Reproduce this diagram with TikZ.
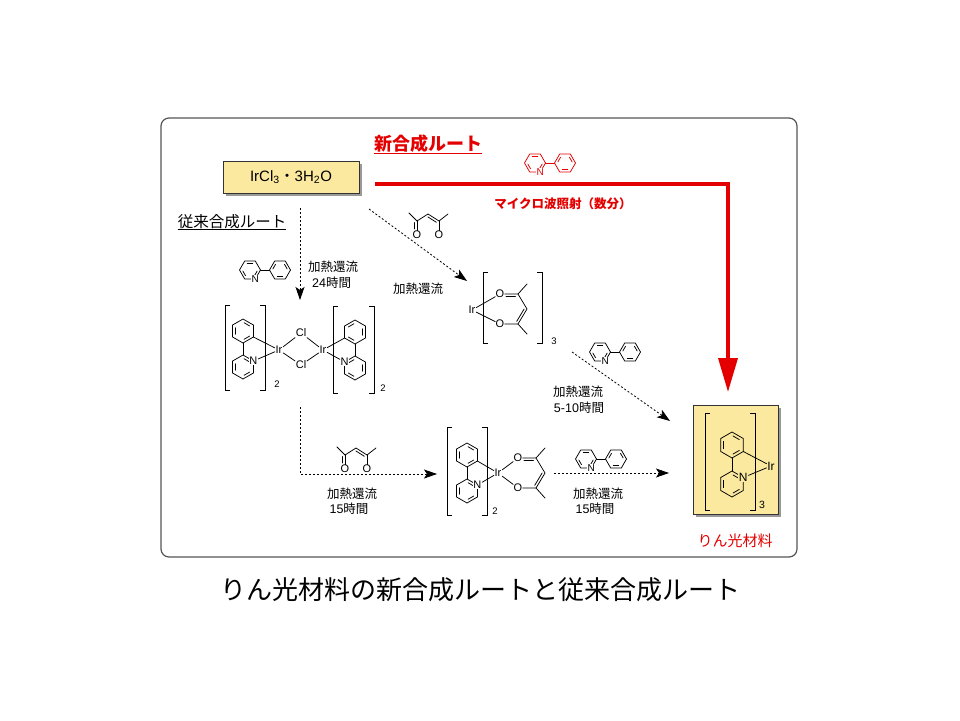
\documentclass[tikz,border=0pt]{standalone}
\usepackage{fontspec}
\setmainfont{Liberation Sans}
\newfontfamily\jp{Noto Sans CJK JP}
\usepackage{tikz}
\usetikzlibrary{positioning}
\usetikzlibrary{arrows.meta}
\usetikzlibrary{calc}
\usetikzlibrary{shadows}

\definecolor{routered}{RGB}{228,0,0}
\definecolor{boxyellow}{RGB}{250,233,158}
\definecolor{framegray}{RGB}{85,85,85}

\tikzset{
  bond/.style={line width=0.75pt, line cap=round},
  bracket/.style={line width=0.75pt},
  atom/.style={inner sep=0.6pt, fill=white, font=\fontsize{11}{11}\selectfont},
  subnum/.style={inner sep=0pt, font=\fontsize{9.5}{10}\selectfont},
  note/.style={inner sep=0pt, font=\fontsize{12.5}{14}\selectfont},
  reaction/.style={line width=0.8pt, dash pattern=on 2pt off 2pt,
    -{Stealth[length=13pt,width=9pt,inset=3pt]}},
  yellowbox/.style={draw=black!80, line width=0.6pt, fill=boxyellow,
    drop shadow={shadow xshift=3pt,shadow yshift=-3pt,fill=black!40,opacity=1}},
}

% hexagon: centre, radius, angle of first corner, edges with inner line
\newcommand{\hexring}[4]{%
  \draw[bond] ($(#1)+(#3:#2)$) -- ($(#1)+({#3+60}:#2)$) -- ($(#1)+({#3+120}:#2)$)
    -- ($(#1)+({#3+180}:#2)$) -- ($(#1)+({#3+240}:#2)$) -- ($(#1)+({#3+300}:#2)$) -- cycle;
  \foreach \k in {#4}{
    \draw[bond,shorten <=1.2pt,shorten >=1.2pt]
      ($(#1)+({#3+60*\k}:{0.74*#2})$) -- ($(#1)+({#3+60*\k+60}:{0.74*#2})$);
  }%
}
\newcommand{\cbrackets}[4]{%
  \draw[bracket] (#1+5,#3) -- (#1,#3) -- (#1,#4) -- (#1+5,#4);
  \draw[bracket] (#2-5,#3) -- (#2,#3) -- (#2,#4) -- (#2-5,#4);
}
% free 2-phenylpyridine
\newcommand{\freeppy}[3]{%
  \coordinate (#1py) at (#2,#3);
  \coordinate (#1ph) at (#2+30,#3);
  \hexring{#1py}{10.5}{0}{0,2,4}
  \hexring{#1ph}{10.5}{0}{1,3,5}
  \draw[bond] ($(#1py)+(0:10.5)$) -- ($(#1ph)+(180:10.5)$);
  \node[atom,inner sep=0.3pt,font=\fontsize{10}{10}\selectfont] (#1n) at ($(#1py)+(60:10.5)$) {N};
}
% free acac
\newcommand{\freeacac}[3]{%
  \begin{scope}[shift={(#2,#3)}]
    \node[atom,inner sep=0.3pt] (#1oa) at (8,22) {O};
    \node[atom,inner sep=0.3pt] (#1ob) at (30,22) {O};
    \draw[bond] (0,0) -- (8,8) -- (19,1) -- (30,8) -- (39,1);
    \draw[bond,shorten <=1.5pt,shorten >=1.5pt] (17.6,3.1) -- (28.6,10.1);
    \draw[bond] (8,8) -- (#1oa);
    \draw[bond] (5.8,9.5) -- (5.8,16);
    \draw[bond] (30,8) -- (#1ob);
  \end{scope}
}
% chelating acac, origin at the upper O
\newcommand{\chelacac}[3]{%
  \begin{scope}[shift={(#2,#3)}]
    \node[atom,inner sep=0.3pt] (#1ou) at (0,0) {O};
    \node[atom,inner sep=0.3pt] (#1od) at (0,30) {O};
    \coordinate (#1cu) at (18,0);
    \coordinate (#1mu) at (27,-10);
    \coordinate (#1ch) at (27,15);
    \coordinate (#1cd) at (18,30);
    \coordinate (#1md) at (27,40);
    \draw[bond] (#1ou) -- (#1cu) -- (#1mu);
    \draw[bond] (6,2.6) -- (15.5,2.6);
    \draw[bond] (#1cu) -- (#1ch) -- (#1cd) -- (#1od);
    \draw[bond] (#1cd) -- (#1md);
    \draw[bond,shorten <=1.5pt,shorten >=1.5pt] (24.9,13.7) -- (15.9,28.7);
  \end{scope}
}

\begin{document}
\begin{tikzpicture}[x=1pt,y=-1pt]
\fill[white] (0,0) rectangle (960,720);
\useasboundingbox (0,0) rectangle (960,720);

\draw[framegray, line width=1.2pt, rounded corners=8pt] (161,118) rectangle (797,557);

\node[yellowbox, minimum width=136pt, minimum height=32pt, font=\fontsize{15}{15}\selectfont]
  (ircl) at (291,177) {IrCl\textsubscript{3}{\jp ・}3H\textsubscript{2}O};

\node[inner sep=0pt, text=routered, font=\jp\bfseries\fontsize{18}{18}\selectfont] (newroute) at (428,144) {新合成ルート};
\draw[routered, line width=0.7pt] ([yshift=-0.5pt]newroute.south west) -- ([yshift=-0.5pt]newroute.south east);
\node[inner sep=0pt, font=\jp\fontsize{15.5}{16}\selectfont] (oldroute) at (232,222) {従来合成ルート};
\draw[line width=0.6pt] (oldroute.south west) -- (oldroute.south east);

% new route
\coordinate (redStart) at (375,184);
\coordinate (redEnd) at (728,392);
\draw[routered, line width=3.6pt, -{Triangle[length=34pt,width=19pt]}] (redStart) -| (redEnd);
\begin{scope}[color=routered]
\freeppy{ppyA}{535}{163}
\end{scope}
\node[inner sep=0pt, text=routered, font=\jp\bfseries\fontsize{12.5}{13}\selectfont] (mw) at (563,204) {マイクロ波照射（数分）};

% IrCl3 -> dimer
\coordinate (irclDown) at (300,208);
\coordinate (dimerTop) at (300,300);
\draw[reaction] (irclDown) -- (dimerTop);
\freeppy{ppyB}{250}{270}
\node[note, anchor=west] (refluxA) at (308,267) {{\jp 加熱還流}};
\node[note, anchor=west] (timeA) at (312,283) {24{\jp 時間}};

% dimer
\coordinate (dLph) at (243,331);
\coordinate (dLpy) at (243,367);
\hexring{dLph}{12}{30}{0,2,4}
\hexring{dLpy}{12}{30}{0,2,4}
\draw[bond] ($(dLph)+(90:12)$) -- ($(dLpy)+(270:12)$);
\node[atom] (dLn) at ($(dLpy)+(330:12)$) {N};
\coordinate (dRph) at (355,332);
\coordinate (dRpy) at (355,368);
\hexring{dRph}{12}{30}{1,3,5}
\hexring{dRpy}{12}{30}{1,3,5}
\draw[bond] ($(dRph)+(90:12)$) -- ($(dRpy)+(270:12)$);
\node[atom] (dRn) at ($(dRpy)+(210:12)$) {N};
\node[atom] (irL) at (279,350) {Ir};
\node[atom] (irR) at (323,350) {Ir};
\node[atom] (clU) at (301,333) {Cl};
\node[atom] (clD) at (301,365) {Cl};
\draw[bond] ($(dLph)+(30:12)$) -- (irL);
\draw[bond] (dLn) -- (irL);
\draw[bond] ($(dRph)+(150:12)$) -- (irR);
\draw[bond] (dRn) -- (irR);
\draw[bond] (irL) -- (clU) -- (irR);
\draw[bond] (irL) -- (clD) -- (irR);
\cbrackets{225}{265}{305}{390}
\node[subnum] (dLsub) at (277,384) {2};
\cbrackets{333}{374}{306}{393}
\node[subnum] (dRsub) at (383,388) {2};

% IrCl3 -> Ir(acac)3
\coordinate (irclDiag) at (369,209);
\coordinate (acacTop) at (467,281);
\draw[reaction] (irclDiag) -- (acacTop);
\freeacac{acA}{409}{213}
\node[note] (refluxB) at (418,289) {{\jp 加熱還流}};

% Ir(acac)3
\node[atom] (irA) at (472,310) {Ir};
\chelacac{tA}{500}{294}
\draw[bond] (irA) -- (tAou);
\draw[bond] (irA) -- (tAod);
\cbrackets{483}{542}{272}{343}
\node[subnum] (tAsub) at (554,341) {3};

% dimer -> Ir(ppy)2(acac)
\coordinate (dimerDown) at (300,407);
\coordinate (mixLeft) at (437,474);
\draw[reaction] (dimerDown) |- (mixLeft);
\freeacac{acB}{337}{447}
\node[note] (refluxC) at (352,494) {{\jp 加熱還流}};
\node[note] (timeC) at (349,509) {15{\jp 時間}};

% Ir(ppy)2(acac)
\coordinate (mPh) at (467,455);
\coordinate (mPy) at (467,491);
\hexring{mPh}{12}{30}{0,2,4}
\hexring{mPy}{12}{30}{0,2,4}
\draw[bond] ($(mPh)+(90:12)$) -- ($(mPy)+(270:12)$);
\node[atom] (mN) at ($(mPy)+(330:12)$) {N};
\node[atom] (irM) at (498,473) {Ir};
\draw[bond] ($(mPh)+(30:12)$) -- (irM);
\draw[bond] (mN) -- (irM);
\chelacac{mA}{518}{458}
\draw[bond] (irM) -- (mAou);
\draw[bond] (irM) -- (mAod);
\cbrackets{447}{487}{427}{515}
\node[subnum] (mSub) at (495,511) {2};

% Ir(ppy)2(acac) -> Ir(ppy)3
\coordinate (mixRight) at (554,473);
\coordinate (prodLeft) at (669,473);
\draw[reaction] (mixRight) -- (prodLeft);
\freeppy{ppyD}{586}{459}
\node[note] (refluxD) at (598,494) {{\jp 加熱還流}};
\node[note] (timeD) at (595,509) {15{\jp 時間}};

% Ir(acac)3 -> Ir(ppy)3
\coordinate (acacDown) at (572,352);
\coordinate (prodTop) at (670,421);
\draw[reaction] (acacDown) -- (prodTop);
\freeppy{ppyC}{600}{352}
\node[note] (refluxE) at (578,392) {{\jp 加熱還流}};
\node[note] (timeE) at (579,408) {5-10{\jp 時間}};

% Ir(ppy)3
\node[yellowbox, minimum width=85pt, minimum height=109pt] (prodbox) at (735.5,459.5) {};
\coordinate (pPh) at (732,445);
\coordinate (pPy) at (732,484);
\hexring{pPh}{13}{30}{0,2,4}
\hexring{pPy}{13}{30}{0,2,4}
\draw[bond] ($(pPh)+(90:13)$) -- ($(pPy)+(270:13)$);
\node[atom, fill=boxyellow, font=\fontsize{12}{12}\selectfont] (pN) at ($(pPy)+(330:13)$) {N};
\node[atom, fill=boxyellow, font=\fontsize{12}{12}\selectfont] (irP) at (771,466) {Ir};
\draw[bond] ($(pPh)+(30:13)$) -- (irP);
\draw[bond] (pN) -- (irP);
\cbrackets{705}{755}{413}{510}
\node[subnum, font=\fontsize{10.5}{11}\selectfont] (pSub) at (762,505) {3};
\node[inner sep=0pt, text=routered, font=\jp\fontsize{15}{15}\selectfont] (phos) at (735,541) {りん光材料};

\node[inner sep=0pt, font=\jp\fontsize{26}{26}\selectfont] (caption) at (480,590) {りん光材料の新合成ルートと従来合成ルート};
\end{tikzpicture}
\end{document}
